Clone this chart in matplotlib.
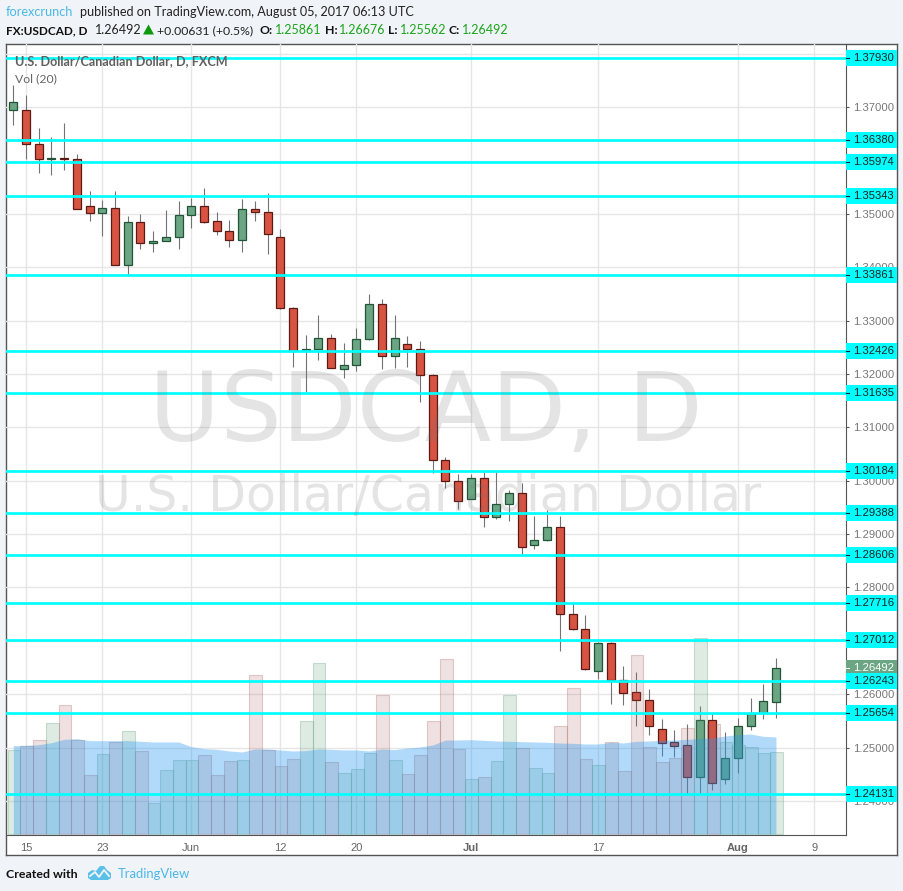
import matplotlib
matplotlib.use('Agg')
import matplotlib.pyplot as plt
from matplotlib.patches import Rectangle, Polygon

# daily USDCAD candles, 12 May - 4 Aug 2017
opens = [1.36950, 1.36950, 1.36313, 1.36032, 1.36040, 1.36032, 1.35152, 1.35021, 1.35115, 1.34048,
         1.34853, 1.34460, 1.34497, 1.34572, 1.34984, 1.35152, 1.34871, 1.34684, 1.34516, 1.35096,
         1.35040, 1.34572, 1.33242, 1.32443, 1.32475, 1.32680, 1.32100, 1.32175, 1.32662, 1.33317,
         1.32343, 1.32568, 1.32475, 1.31988, 1.30396, 1.30003, 1.29666, 1.30059, 1.29329, 1.29572,
         1.29778, 1.28804, 1.28898, 1.29141, 1.27493, 1.27212, 1.26438, 1.26950, 1.26257, 1.26033,
         1.25896, 1.25340, 1.25096, 1.25040, 1.24453, 1.25508, 1.24416, 1.24797, 1.25396, 1.25639,
         1.25861]
highs = [1.37424, 1.37237, 1.36601, 1.36432, 1.36694, 1.36114, 1.35421, 1.35252, 1.35421, 1.34953,
         1.34990, 1.34672, 1.35065, 1.35234, 1.35290, 1.35477, 1.35028, 1.34878, 1.35271, 1.35234,
         1.35383, 1.34709, 1.33250, 1.32724, 1.33099, 1.32743, 1.32574, 1.32855, 1.33492, 1.33398,
         1.33099, 1.32705, 1.32612, 1.31995, 1.30440, 1.30121, 1.30121, 1.30165, 1.30165, 1.29834,
         1.29953, 1.29335, 1.29447, 1.29347, 1.27687, 1.27481, 1.26982, 1.26982, 1.26526, 1.26414,
         1.26095, 1.25533, 1.25327, 1.25440, 1.25777, 1.25627, 1.25290, 1.25552, 1.25927, 1.26189,
         1.26676]
lows = [1.36675, 1.36026, 1.35764, 1.35720, 1.35814, 1.35090, 1.34865, 1.34584, 1.34040, 1.33879,
        1.34341, 1.34285, 1.34490, 1.34341, 1.34728, 1.34828, 1.34597, 1.34372, 1.34285, 1.34859,
        1.34241, 1.33211, 1.32131, 1.31663, 1.32256, 1.32110, 1.31925, 1.32056, 1.32643, 1.32094,
        1.32113, 1.32131, 1.31476, 1.30146, 1.29865, 1.29472, 1.29660, 1.29135, 1.29291, 1.29247,
        1.28636, 1.28729, 1.28879, 1.26813, 1.27205, 1.26451, 1.26282, 1.25821, 1.25802, 1.25402,
        1.25234, 1.24841, 1.24822, 1.24148, 1.24148, 1.24204, 1.24316, 1.24522, 1.25327, 1.25533,
        1.25562]
closes = [1.37100, 1.36313, 1.36032, 1.36040, 1.36025, 1.35096, 1.35021, 1.35115, 1.34048, 1.34853,
          1.34460, 1.34497, 1.34572, 1.34984, 1.35152, 1.34853, 1.34684, 1.34516, 1.35096, 1.35040,
          1.34628, 1.33242, 1.32431, 1.32475, 1.32680, 1.32119, 1.32175, 1.32662, 1.33317, 1.32343,
          1.32680, 1.32475, 1.31988, 1.30396, 1.30003, 1.29628, 1.30059, 1.29329, 1.29572, 1.29778,
          1.28767, 1.28898, 1.29141, 1.27493, 1.27212, 1.26476, 1.26950, 1.26257, 1.26027, 1.25896,
          1.25409, 1.25090, 1.25034, 1.24453, 1.25508, 1.24341, 1.24797, 1.25396, 1.25639, 1.25864,
          1.26492]
volumes = [252, 265, 282, 332, 386, 282, 177, 239, 276, 308, 248, 93, 191, 221, 221, 236, 176, 218, 221, 476,
           252, 203, 224, 338, 512, 215, 182, 194, 242, 416, 221, 179, 236, 338, 524, 254, 164, 170, 218, 416,
           257, 197, 182, 323, 437, 224, 206, 275, 188, 536, 260, 215, 227, 317, 587, 329, 275, 266, 260, 242,
           245]
vol_ma = [265, 266, 268, 274, 284, 286, 280, 280, 280, 280, 278, 276, 276, 276, 262, 256, 254, 249, 246, 255,
          255, 252, 249, 250, 255, 254, 252, 252, 249, 255, 253, 258, 261, 267, 282, 282, 283, 281, 279, 278,
          277, 276, 275, 273, 272, 270, 270, 275, 273, 278, 279, 281, 282, 284, 286, 288, 294, 298, 300, 293,
          291]
levels = [1.37930, 1.36380, 1.35974, 1.35343, 1.33861, 1.32426, 1.31635, 1.30184, 1.29388,
          1.28606, 1.27716, 1.27012, 1.26243, 1.25654, 1.24131]
price_ticks = [1.24, 1.25, 1.26, 1.27, 1.28, 1.29, 1.30, 1.31, 1.32, 1.33, 1.34, 1.35, 1.36, 1.37, 1.38]
day_ticks = [1, 7, 14, 21, 27, 36, 46, 57, 63]
day_labels = ['15', '23', 'Jun', '12', '20', 'Jul', '17', 'Aug', '9']
last_price = 1.26492

W, H = 904, 891
BG = '#f0f3f7'
UP, UP_EDGE = '#6ba583', '#225437'
DOWN, DOWN_EDGE = '#d75442', '#5b1a13'
WICK = '#737375'
GRID = '#e6e6e6'
BORDER = '#555555'
CYAN = '#00ffff'
TEXT_GREEN = '#1ca51c'
UI_FONT = ['Lato', 'DejaVu Sans']


def box(l, t, r, b):
    return [l / W, 1 - b / H, (r - l) / W, (b - t) / H]


def label(x, y, s, **kw):
    kw.setdefault('family', UI_FONT)
    return fig.text(x / W, 1 - y / H, s, va='baseline', **kw)


fig = plt.figure(figsize=(W / 100, H / 100), dpi=100, facecolor=BG)

panel = fig.add_axes(box(6.5, 43.5, 897.5, 854.5), facecolor='white')
panel.set_xticks([])
panel.set_yticks([])
for s in panel.spines.values():
    s.set_color(BORDER)
    s.set_linewidth(1)

plot_box = box(6.5, 43.5, 846.5, 835)
xlim = (-0.535, 65.55)
ylim = (1.23361, 1.38193)

ax = fig.add_axes(plot_box, facecolor='none')
ax.set_xlim(xlim)
ax.set_ylim(ylim)
ax.set_axisbelow(True)
ax.grid(True, color=GRID, lw=1)
ax.set_xticks(day_ticks)
ax.set_xticklabels(day_labels, family='Liberation Sans', fontsize=8, color='#666666')
for t in ax.get_xticklabels():
    if t.get_text() in ('Jul', 'Aug'):
        t.set_fontweight('bold')
ax.tick_params(axis='x', length=0, pad=6)
ax.set_yticks(price_ticks)
ax.yaxis.tick_right()
ax.set_yticklabels(['%.5f' % p for p in price_ticks], family='Liberation Sans', fontsize=8.1, color='#777777')
ax.tick_params(axis='y', length=2.2, width=0.8, color=BORDER, pad=2.6)
for name, s in ax.spines.items():
    s.set_visible(name in ('right', 'bottom'))
    s.set_color(BORDER)

# watermarks
wm = (0.45, 0.45, 0.45, 0.19)
fig.text(426 / W, 1 - 441.5 / H, 'USDCAD, D', color=wm, fontsize=70, ha='center', va='baseline', family='DejaVu Sans')
fig.text(428 / W, 1 - 511.5 / H, 'U.S. Dollar/Canadian Dollar', color=wm, fontsize=35.2, ha='center', va='baseline',
         family='DejaVu Sans')

days = list(range(len(opens)))
ups = [c >= o for o, c in zip(opens, closes)]

ax.vlines(days, lows, highs, color=WICK, lw=0.8, zorder=3)
bottoms = [min(o, c) for o, c in zip(opens, closes)]
heights = [abs(c - o) for o, c in zip(opens, closes)]
ax.bar(days, heights, bottom=bottoms, width=0.63, lw=0.9, zorder=4,
       color=[UP if u else DOWN for u in ups],
       edgecolor=[UP_EDGE if u else DOWN_EDGE for u in ups])

# volume panel sits over the candles
ax_vol = fig.add_axes(plot_box, facecolor='none')
ax_vol.set_xlim(xlim)
ax_vol.set_ylim(-3, 2371)
ax_vol.axis('off')
ax_vol.bar([d + 0.06 for d in days], volumes, width=1.0, lw=0.8,
           color=[(0.42, 0.65, 0.51, 0.22) if u else (0.68, 0.38, 0.38, 0.19) for u in ups],
           edgecolor=[(0.42, 0.65, 0.51, 0.35) if u else (0.68, 0.38, 0.38, 0.3) for u in ups])
ax_vol.fill_between(days, 0, vol_ma, color=(0.13, 0.59, 0.95, 0.35), lw=0)

# levels go on top of everything
label(15, 65, 'U.S. Dollar/Canadian Dollar, D, FXCM', color='#606060', fontsize=9.1, fontweight='bold')
ax_lvl = fig.add_axes(plot_box, facecolor='none')
ax_lvl.set_xlim(xlim)
ax_lvl.set_ylim(ylim)
ax_lvl.axis('off')
label_h = 16 / (791.5 / (ylim[1] - ylim[0]))
label_w = 50.5 / 840
trans = ax_lvl.get_yaxis_transform()


def price_label(p, face, fg):
    ax_lvl.add_patch(Rectangle((1.0, p - label_h / 2), label_w, label_h, transform=trans, color=face, lw=0,
                               clip_on=False))
    ax_lvl.plot([1.0, 1.0035], [p, p], transform=trans, color=fg, lw=0.8, clip_on=False)
    ax_lvl.text(1.0075, p, '%.5f' % p, transform=trans, color=fg, va='center', fontsize=8.1,
                family='Liberation Sans', clip_on=False)


price_label(last_price, UP, 'white')
for lv in levels:
    ax_lvl.axhline(lv, xmin=0, xmax=0.9985, color=CYAN, lw=1.95)
    price_label(lv, CYAN, '#222222')

label(15, 82.5, 'Vol (20)', color='#666666', fontsize=8.8)

# header
label(6, 16, 'forexcrunch', color='#4bb8e8', fontsize=9.2)
label(80, 16, 'published on TradingView.com, August 05, 2017 06:13 UTC', color='#222222', fontsize=9.05)
label(6.5, 34, 'FX:USDCAD, D', color='#111111', fontsize=8.5, fontweight='bold')
label(94.5, 34, '1.26492', color='#222222', fontsize=9)
fig.add_artist(Polygon([(143 / W, 1 - 34.5 / H), (154 / W, 1 - 34.5 / H), (148.5 / W, 1 - 24.5 / H)],
                       transform=fig.transFigure, color='#0a9a0a', lw=0))
label(157, 34, '+0.00631 (+0.5%)', color='#222222', fontsize=8.8)
for x, s, xv, v in [(260, 'O:', 274.5, '1.25861'), (324.5, 'H:', 338.5, '1.26676'),
                    (388.5, 'L:', 399.5, '1.25562'), (449, 'C:', 461.5, '1.26492')]:
    label(x, 34, s, color='#111111', fontsize=8.8, fontweight='bold')
    label(xv, 34, v, color=TEXT_GREEN, fontsize=9)

# footer
label(6.5, 878, 'Created with', color='#111111', fontsize=8.9, fontweight='bold')
label(118, 878, 'TradingView', color='#4bb8e8', fontsize=9.35)
cloud = [(88, 878), (88, 873), (92, 870), (96, 871), (100, 866), (104, 866), (107, 870), (111, 873), (111, 878),
         (108, 880), (91, 880)]
fig.add_artist(Polygon([(x / W, 1 - y / H) for x, y in cloud], transform=fig.transFigure, color='#5bc0e8', lw=0))
zig = [(90, 876), (95, 872), (99, 877), (104, 870), (109, 876)]
fig.add_artist(plt.Line2D([x / W for x, y in zig], [1 - y / H for x, y in zig], transform=fig.transFigure,
                          color=BG, lw=1.3))

fig.savefig('out.png', dpi=100, facecolor=BG)
